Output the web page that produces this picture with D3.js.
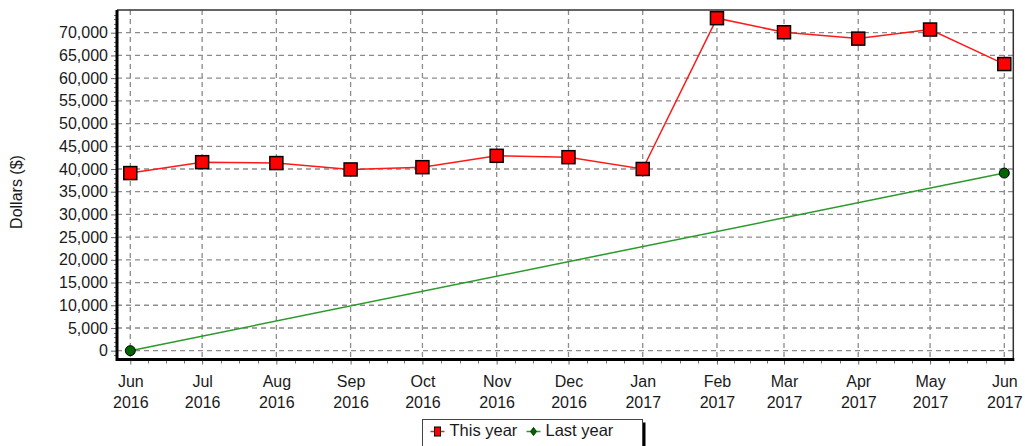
<!DOCTYPE html>
<html>
<head>
<meta charset="utf-8">
<script src="https://cdn.jsdelivr.net/npm/d3@7"></script>
<style>
    body { margin: 0; background: #fff; }
    text { font-family: "Liberation Sans", Arial, sans-serif; fill: #1a1a1a; }
</style>
</head>
<body>
<div class="chart"></div>
<script>
var width = 1025;
var height = 446;

// data
var months = ["2016-06", "2016-07", "2016-08", "2016-09", "2016-10", "2016-11", "2016-12",
              "2017-01", "2017-02", "2017-03", "2017-04", "2017-05", "2017-06"];
var thisYear = [39100, 41500, 41300, 39900, 40400, 42900, 42600, 40000, 73200, 70100, 68700, 70700, 63100];
var lastYearMonths = ["2016-06", "2017-06"];
var lastYear = [0, 39100];
var yTicks = [0, 5000, 10000, 15000, 20000, 25000, 30000, 35000, 40000, 45000, 50000, 55000, 60000, 65000, 70000];
var seriesNames = ["This year", "Last year"];

var parse = d3.timeParse("%Y-%m");
var plot = {left: 117, right: 1013.3, top: 10, bottom: 359.5};

var x = d3.scaleTime()
    .domain([parse(months[0]), parse(months[months.length - 1])])
    .range([130.3, 1004.3]);
var y = d3.scaleLinear().domain([-1940, 75000]).range([plot.bottom, plot.top]);

function build_svg(c){
    return c.append("svg").attr("width", width).attr("height", height);
}

function build_grid(s){
    var g = s.append("g").attr("class", "grid");
    g.selectAll(".hgrid").data(yTicks).enter().append("line")
        .attr("x1", plot.left).attr("x2", plot.right)
        .attr("y1", function(d){ return y(d); })
        .attr("y2", function(d){ return y(d); });
    g.selectAll(".vgrid").data(months).enter().append("line")
        .attr("y1", plot.top).attr("y2", plot.bottom)
        .attr("x1", function(d){ return x(parse(d)); })
        .attr("x2", function(d){ return x(parse(d)); });
    g.selectAll("line")
        .attr("stroke", "#8c8c8c")
        .attr("stroke-width", 1.3)
        .attr("stroke-dasharray", "5,4");
}

function build_axes(s){
    // minor ticks: every 1000 on y, quarter months on x
    var minorY = d3.range(-1000, 75000, 1000).filter(function(v){ return v % 5000 != 0; });
    s.append("g").selectAll("line").data(minorY).enter().append("line")
        .attr("x1", plot.left - 3).attr("x2", plot.left)
        .attr("y1", function(d){ return Math.round(y(d)) + 0.5; })
        .attr("y2", function(d){ return Math.round(y(d)) + 0.5; })
        .attr("stroke", "#777");

    var minorX = [];
    for (var i = 0; i < months.length - 1; i++) {
        var a = +parse(months[i]), b = +parse(months[i + 1]);
        for (var k = 1; k < 4; k++) minorX.push(new Date(a + (b - a) * k / 4));
    }
    s.append("g").selectAll("line").data(minorX).enter().append("line")
        .attr("y1", plot.bottom).attr("y2", plot.bottom + 4)
        .attr("x1", function(d){ return Math.round(x(d)) + 0.5; })
        .attr("x2", function(d){ return Math.round(x(d)) + 0.5; })
        .attr("stroke", "#777");

    var yAxis = d3.axisLeft(y).tickValues(yTicks).tickSize(6).tickPadding(3)
        .tickFormat(d3.format(","));
    var ya = s.append("g")
        .attr("transform", "translate(" + plot.left + ",0)")
        .call(yAxis);
    ya.select(".domain").remove();
    ya.selectAll("line").attr("stroke", "#666");
    ya.selectAll("text").attr("font-size", 16).attr("fill", "#1a1a1a")
        .attr("font-family", "Liberation Sans, Arial, sans-serif");

    var fmtM = d3.timeFormat("%b"), fmtY = d3.timeFormat("%Y");
    var xAxis = d3.axisBottom(x).tickValues(months.map(parse)).tickSize(5).tickFormat("");
    var xa = s.append("g")
        .attr("transform", "translate(0," + plot.bottom + ")")
        .call(xAxis);
    xa.select(".domain").remove();
    xa.selectAll("line").attr("stroke", "#666");
    xa.selectAll(".tick text").remove();
    var t = xa.selectAll(".tick").append("text")
        .attr("text-anchor", "middle")
        .attr("font-size", 16)
        .attr("fill", "#1a1a1a")
        .attr("font-family", "Liberation Sans, Arial, sans-serif");
    t.append("tspan").attr("x", 0).attr("y", 27).text(function(d){ return fmtM(d); });
    t.append("tspan").attr("x", 0).attr("y", 48).text(function(d){ return fmtY(d); });

    // frame: thin top/right, thick left/bottom
    s.append("path")
        .attr("d", "M" + plot.left + "," + plot.top + "H" + plot.right + "V" + plot.bottom)
        .attr("fill", "none").attr("stroke", "#333").attr("stroke-width", 1.5);
    s.append("path")
        .attr("d", "M" + plot.left + "," + plot.top + "V" + plot.bottom + "H" + (plot.right + 1))
        .attr("fill", "none").attr("stroke", "#000").attr("stroke-width", 3);

    s.append("text")
        .attr("transform", "translate(22,192) rotate(-90)")
        .attr("text-anchor", "middle")
        .attr("font-size", 16)
        .text("Dollars ($)");
}

function build_lines(s){
    var line = d3.line()
        .x(function(d){ return x(parse(d.m)); })
        .y(function(d){ return y(d.v); });

    var ly = lastYearMonths.map(function(m, i){ return {m: m, v: lastYear[i]}; });
    var ty = months.map(function(m, i){ return {m: m, v: thisYear[i]}; });

    s.append("path").datum(ly).attr("d", line)
        .attr("fill", "none").attr("stroke", "#2a9a2a").attr("stroke-width", 1.5);
    s.append("path").datum(ty).attr("d", line)
        .attr("fill", "none").attr("stroke", "#ff1a1a").attr("stroke-width", 1.5);

    s.selectAll(".ly").data(ly).enter().append("circle")
        .attr("cx", function(d){ return x(parse(d.m)); })
        .attr("cy", function(d){ return y(d.v); })
        .attr("r", 5)
        .attr("fill", "#006400").attr("stroke", "#000").attr("stroke-width", 1);

    var sz = 13;
    s.selectAll(".ty").data(ty).enter().append("rect")
        .attr("x", function(d){ return x(parse(d.m)) - sz / 2; })
        .attr("y", function(d){ return y(d.v) - sz / 2; })
        .attr("width", sz).attr("height", sz)
        .attr("fill", "#ff0000").attr("stroke", "#000").attr("stroke-width", 1.5);
}

function build_legend(s){
    var g = s.append("g").attr("transform", "translate(422.5,419.5)");
    g.append("rect").attr("x", 3).attr("y", 3).attr("width", 220).attr("height", 30).attr("fill", "#000");
    g.append("rect").attr("width", 220).attr("height", 30).attr("fill", "#fff").attr("stroke", "#444");

    var colors = ["#ff1a1a", "#2a9a2a"];
    var item = g.selectAll(".item").data(seriesNames).enter().append("g")
        .attr("transform", function(d, i){ return "translate(" + (8 + i * 96) + ",0)"; });
    item.append("line")
        .attr("x1", 0).attr("x2", 14).attr("y1", 12).attr("y2", 12)
        .attr("stroke", function(d, i){ return colors[i]; }).attr("stroke-width", 1.5);
    item.filter(function(d, i){ return i == 0; }).append("rect")
        .attr("x", 4).attr("y", 7.5).attr("width", 6).attr("height", 9)
        .attr("fill", "#ff0000").attr("stroke", "#000");
    item.filter(function(d, i){ return i == 1; }).append("path")
        .attr("d", "M7,8L10,12L7,16L4,12Z")
        .attr("fill", "#006400").attr("stroke", "#003300");
    item.append("text")
        .attr("x", 19).attr("y", 16)
        .attr("font-size", 16.5)
        .text(function(d){ return d; });
}

function main(){
    var container = d3.select(".chart");
    var svg = build_svg(container);
    build_grid(svg);
    build_lines(svg);
    build_axes(svg);
    build_legend(svg);
}

main();
</script>
</body>
</html>
